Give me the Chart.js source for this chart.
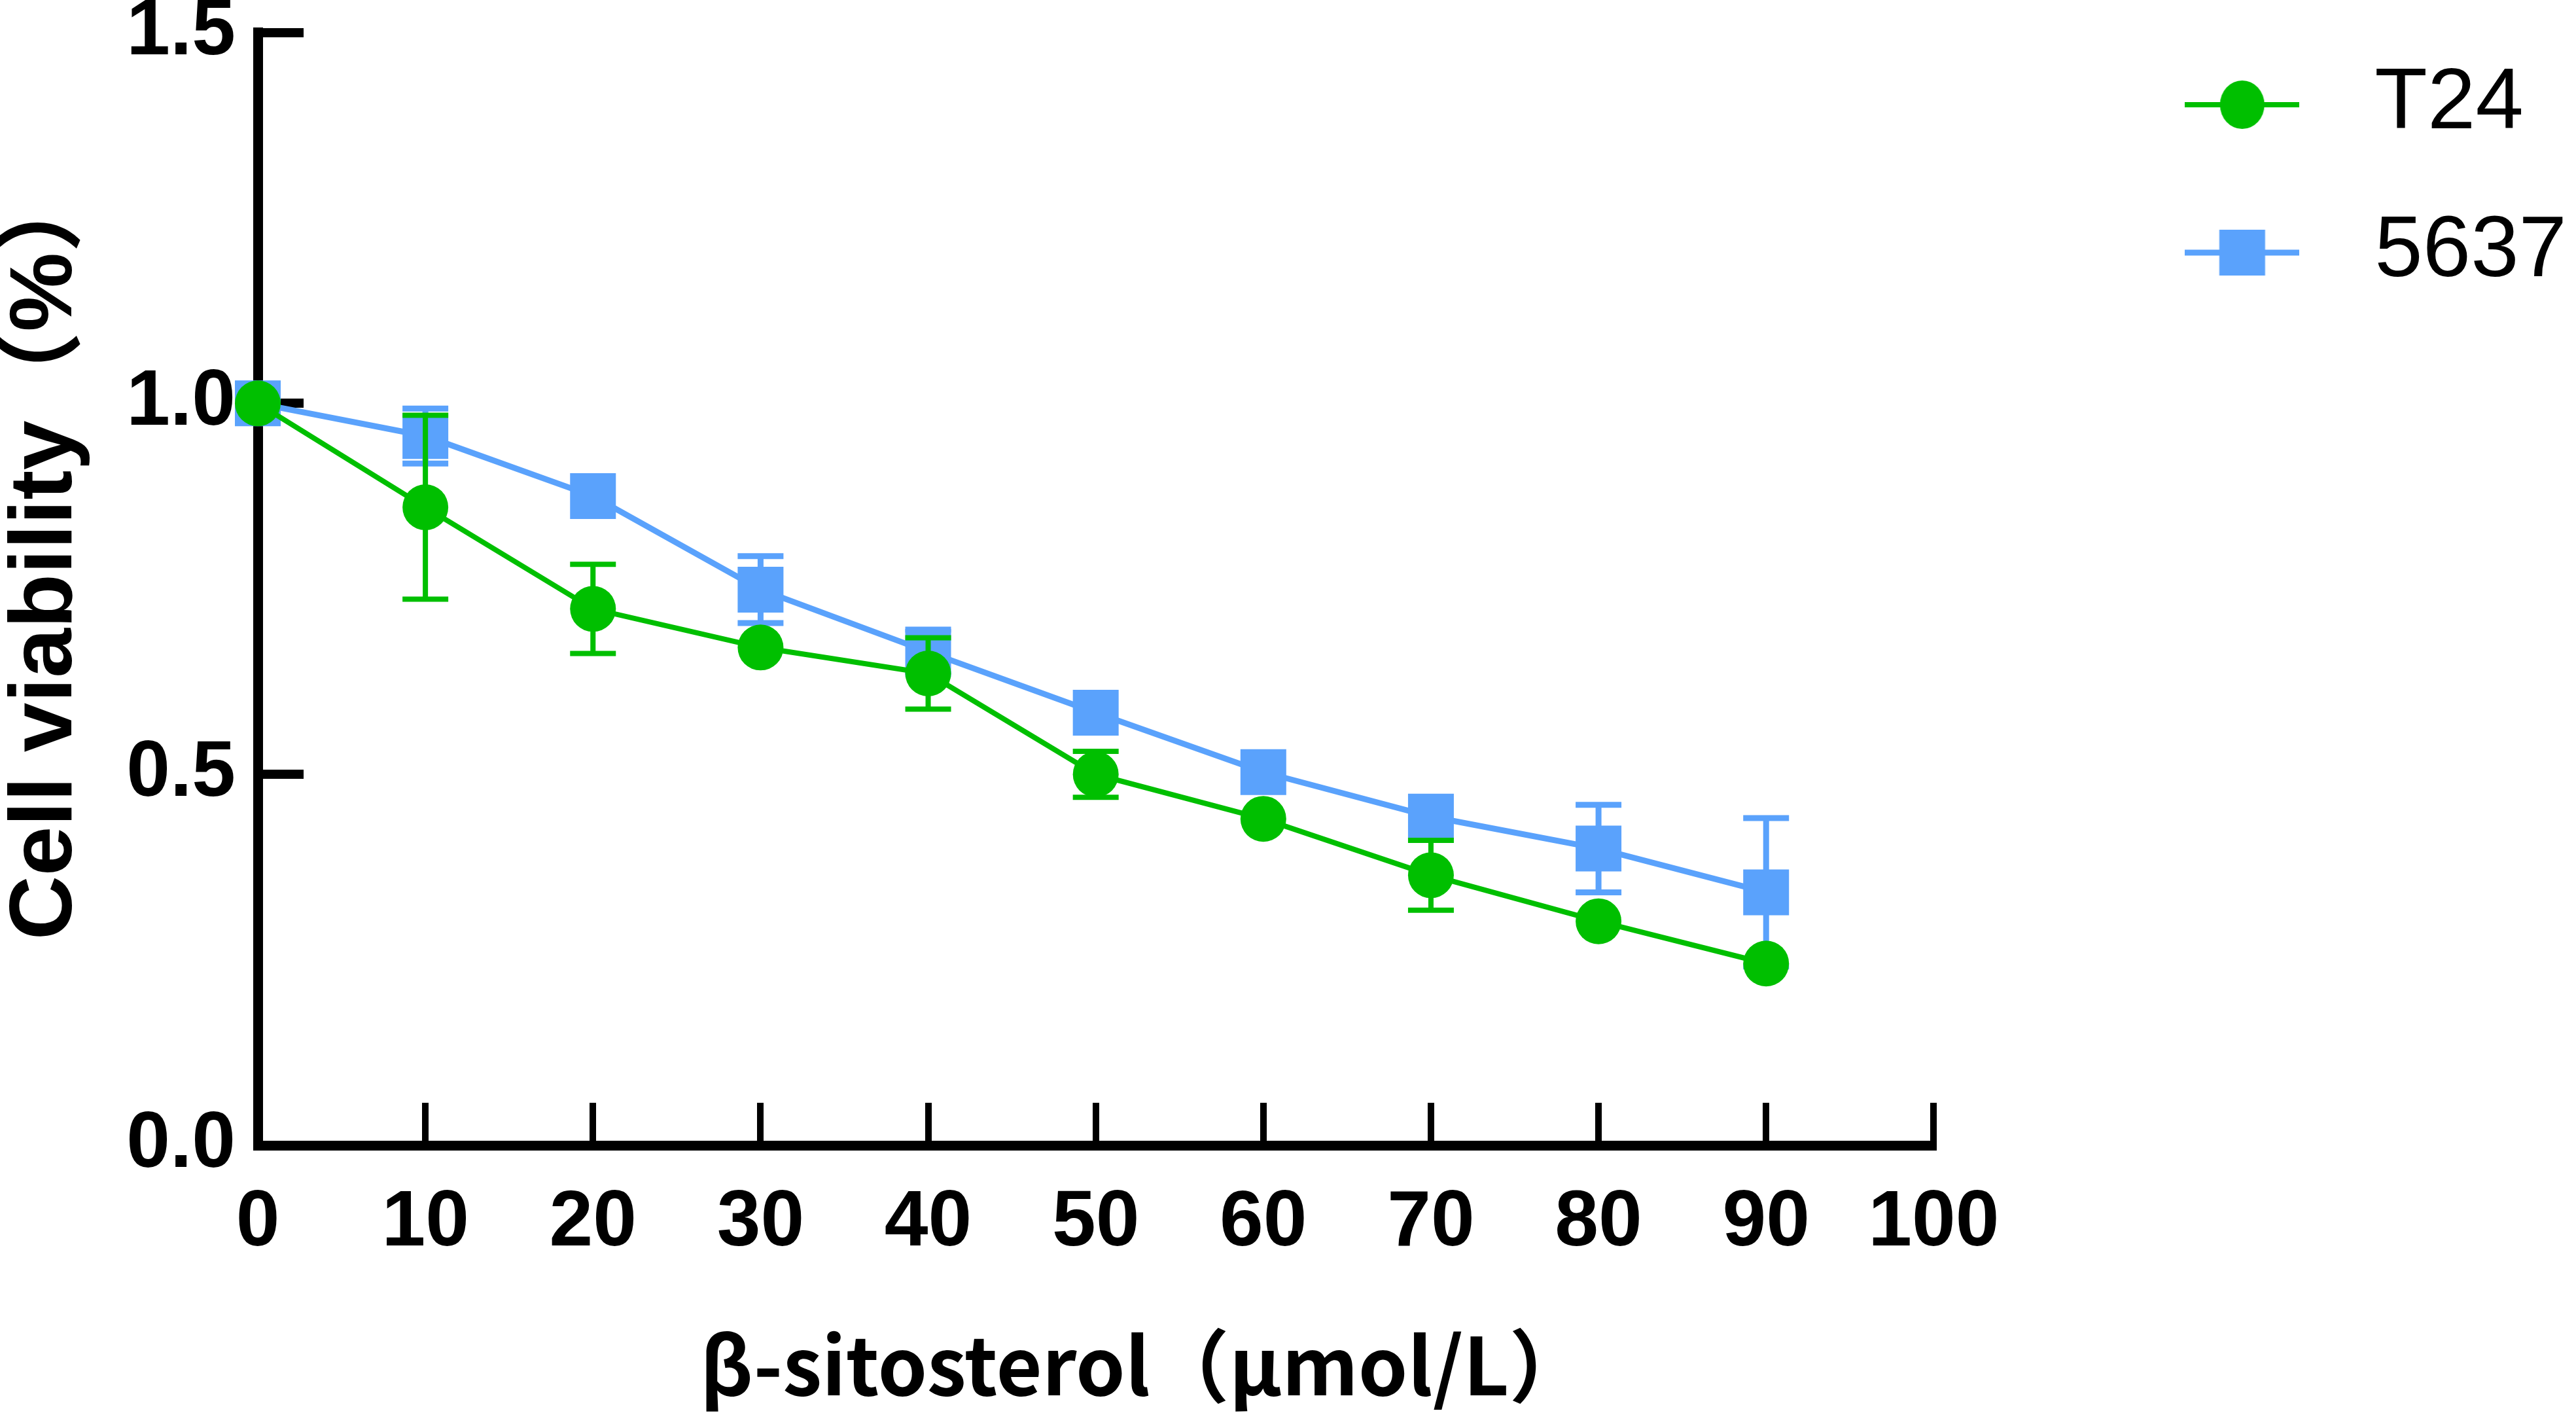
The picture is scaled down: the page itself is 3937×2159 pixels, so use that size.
<!DOCTYPE html>
<html>
<head>
<meta charset="utf-8">
<script src="https://cdn.jsdelivr.net/npm/chart.js@4"></script>
<style>
  html, body { margin: 0; padding: 0; background: #fff; }
  #wrap { width: 3937px; height: 2159px; }
</style>
</head>
<body>
<div id="wrap"><canvas id="myChart" width="3937" height="2159"></canvas></div>
<script>
// dose (µmol/L) and mean viability with SD
const doses = [0, 10, 20, 30, 40, 50, 60, 70, 80, 90];
const t24 = [1.0, 0.860, 0.723, 0.671, 0.636, 0.500, 0.440, 0.364, 0.302, 0.245];
const t24Sd = [0, 0.124, 0.060, 0, 0.048, 0.031, 0, 0.047, 0, 0];
const c5637 = [1.0, 0.956, 0.875, 0.749, 0.665, 0.583, 0.503, 0.443, 0.400, 0.341];
const c5637Sd = [0, 0.037, 0, 0.045, 0.030, 0, 0, 0, 0.059, 0.100];
const xTicks = [0, 10, 20, 30, 40, 50, 60, 70, 80, 90, 100];
const yTicks = [0, 0.5, 1.0, 1.5];

const GREEN = '#00bf00';
const BLUE = '#5aa2fc';

const points = (vals) => doses.map((d, i) => ({x: d, y: vals[i]}));

// whisker pairs, broken by a null so each dose gets its own segment
const whiskers = (vals, sd) => {
    let out = [];
    doses.forEach((d, i) => {
        if (!sd[i]) return;
        out.push({x: d, y: vals[i] - sd[i]}, {x: d, y: vals[i] + sd[i]}, {x: d, y: null});
    });
    return out;
};

// legend symbol: short line with the marker on it
const legendIcon = (color, marker, lw) => {
    const c = document.createElement('canvas');
    c.width = 175; c.height = 80;
    const g = c.getContext('2d');
    g.strokeStyle = color; g.fillStyle = color; g.lineWidth = lw;
    g.beginPath(); g.moveTo(0, 40); g.lineTo(175, 40); g.stroke();
    if (marker === 'circle') {
        g.beginPath(); g.ellipse(87.5, 40, 34, 37, 0, 0, Math.PI * 2); g.fill();
    } else {
        g.fillRect(52.5, 5, 70, 70);
    }
    return c;
};
const icons = {0: legendIcon(GREEN, 'circle', 8), 2: legendIcon(BLUE, 'rect', 9)};

const tickFont = {family: "'Liberation Sans', Arial, sans-serif", size: 120, weight: 'bold'};

const data = {
    datasets: [{
        label: 'T24',
        data: points(t24),
        borderColor: GREEN,
        backgroundColor: GREEN,
        borderWidth: 8,
        pointStyle: 'circle',
        pointRadius: 35,
        pointBorderWidth: 0,
        clip: false,
        order: 0
    }, {
        label: 'T24 SD',
        errorBars: true,
        data: whiskers(t24, t24Sd),
        borderColor: GREEN,
        borderWidth: 8,
        pointStyle: 'line',
        pointRadius: 35,
        pointBorderColor: GREEN,
        pointBorderWidth: 8,
        spanGaps: false,
        clip: false,
        order: 1
    }, {
        label: '5637',
        data: points(c5637),
        borderColor: BLUE,
        backgroundColor: BLUE,
        borderWidth: 9,
        pointStyle: 'rect',
        pointRadius: 49.5,
        pointBorderWidth: 0,
        clip: false,
        order: 2
    }, {
        label: '5637 SD',
        errorBars: true,
        data: whiskers(c5637, c5637Sd),
        borderColor: BLUE,
        borderWidth: 9,
        pointStyle: 'line',
        pointRadius: 35,
        pointBorderColor: BLUE,
        pointBorderWidth: 9,
        spanGaps: false,
        clip: false,
        order: 3
    }]
};

const config = {
    type: 'line',
    data,
    options: {
        responsive: false,
        devicePixelRatio: 1,
        animation: false,
        events: [],
        layout: {padding: {top: 0, left: 0, bottom: 0, right: 4}},
        scales: {
            x: {
                type: 'linear',
                min: 0,
                max: 100,
                afterBuildTicks: (s) => { s.ticks = xTicks.map(v => ({value: v})); },
                afterFit: (s) => { s.height = 409; },
                border: {display: true, color: '#000', width: 15},
                grid: {drawOnChartArea: false, drawTicks: true, tickLength: -65, color: '#000', lineWidth: 10},
                ticks: {color: '#000', font: {...tickFont, lineHeight: 1}, padding: 125, maxRotation: 0, autoSkip: false},
                title: {
                    display: true,
                    // leading blank nudges the label right of the axis centre, as in the figure
                    text: '\u3000 β-sitosterol（μmol/L）',
                    color: '#000',
                    font: {family: "'Noto Sans CJK SC', sans-serif", size: 121, weight: 'bold', lineHeight: 1.2},
                    padding: {top: 0, bottom: 0}
                }
            },
            y: {
                min: 0,
                max: 1.5,
                afterBuildTicks: (s) => { s.ticks = yTicks.map(v => ({value: v})); },
                afterFit: (s) => {
                    s.width = 394;
                    // tick padding would otherwise be added above the top label
                    s.paddingTop = 45;
                    s.paddingBottom = 45;
                },
                border: {display: true, color: '#000', width: 15},
                grid: {drawOnChartArea: false, drawTicks: true, tickLength: -70, color: '#000', lineWidth: 14},
                ticks: {color: '#000', font: tickFont, padding: 104, callback: (v) => v.toFixed(1)},
                title: {
                    display: true,
                    text: '   Cell viability（%）',
                    color: '#000',
                    font: {family: "'Liberation Sans', 'Noto Sans CJK SC', sans-serif", size: 136, weight: 'bold', lineHeight: 1.05},
                    padding: {top: 0, bottom: 0}
                }
            },
            // empty spacer between the plot and the legend
            gap: {
                type: 'linear',
                position: 'right',
                afterFit: (s) => { s.width = 241; },
                border: {display: false},
                grid: {display: false},
                ticks: {display: false}
            }
        },
        plugins: {
            tooltip: {enabled: false},
            legend: {
                display: true,
                position: 'right',
                align: 'start',
                maxWidth: 1000,
                labels: {
                    color: '#000',
                    font: {family: "'Liberation Sans', Arial, sans-serif", size: 132},
                    usePointStyle: true,
                    pointStyleWidth: 273,
                    padding: 94,
                    generateLabels: (chart) => Chart.defaults.plugins.legend.labels.generateLabels(chart)
                        .filter(item => !chart.data.datasets[item.datasetIndex].errorBars)
                        .map(item => Object.assign(item, {pointStyle: icons[item.datasetIndex]}))
                }
            }
        }
    }
};

new Chart(document.getElementById('myChart'), config);
</script>
</body>
</html>
